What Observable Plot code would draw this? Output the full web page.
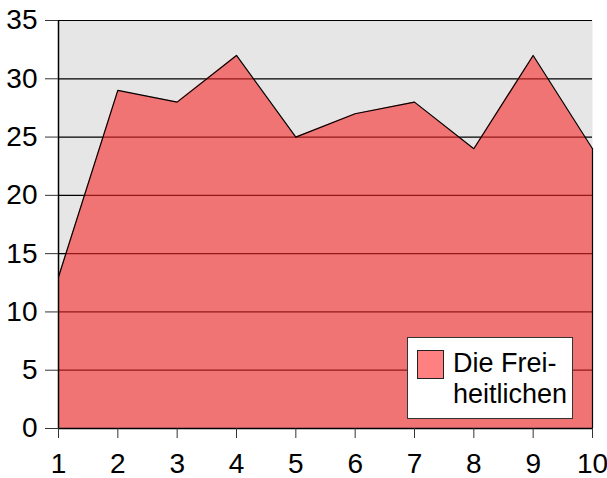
<!DOCTYPE html>
<html><head><meta charset="utf-8">
<script src="https://cdn.jsdelivr.net/npm/d3@7"></script>
<script src="https://cdn.jsdelivr.net/npm/@observablehq/plot@0.6"></script>
<style>
body{margin:0;background:#fff;font-family:"Liberation Sans",Arial,sans-serif;}
#wrap{position:relative;width:607px;height:478px;}
#wrap svg text{font-size:28px !important;font-family:"Liberation Sans",Arial,sans-serif !important;}
#legend{position:absolute;left:407px;top:337px;width:166px;height:82px;background:#fff;border:1px solid #333;box-sizing:border-box;}
#sw{position:absolute;left:9px;top:12px;width:27px;height:29px;background:#ff8080;border:1px solid #222;box-sizing:border-box;}
#lt{position:absolute;left:45px;top:10px;font-size:27px;line-height:31px;color:#000;white-space:nowrap;}
</style></head><body>
<div id="wrap"></div>
<script>
const xs = [1,2,3,4,5,6,7,8,9,10];
const ys = [13,29,28,32,25,27,28,24,32,24];
const yTicks = [0,5,10,15,20,25,30,35];
const seriesName = ["Die Frei-","heitlichen"];
const data = xs.map((x,i)=>({x, y: ys[i]}));

const chart = Plot.plot({
  width: 607, height: 478,
  marginLeft: 58, marginRight: 15, marginTop: 20, marginBottom: 50,
  style: {fontFamily: '"Liberation Sans", Arial, sans-serif', fontSize: "28px", background: "#fff", color: "#000"},
  x: {domain: [1,10], label: null},
  y: {domain: [0,35], label: null},
  marks: [
    Plot.frame({fill: "#e6e6e6", stroke: null}),
    Plot.gridY(yTicks.filter(d=>d>0), {stroke: "#000", strokeOpacity: 1, strokeWidth: 1.2}),
    Plot.areaY(data, {x: "x", y: "y", fill: "rgb(247,40,40)", fillOpacity: 0.6}),
    Plot.lineY(data, {x: "x", y: "y", stroke: "#000", strokeWidth: 1.2}),
    Plot.ruleX([10], {y1: 0, y2: ys[ys.length-1], stroke: "#000", strokeWidth: 1.2}),
    Plot.ruleY([0], {stroke: "#000", strokeWidth: 1.5}),
    Plot.ruleX([1], {stroke: "#000", strokeWidth: 1.5}),
    Plot.axisX({ticks: xs, tickSize: 10, tickPadding: 15, fontSize: 28, stroke: "#333", tickFormat: d3.format("d")}),
    Plot.axisY({ticks: yTicks, tickSize: 13, tickPadding: 8, fontSize: 28, stroke: "#333"})
  ]
});
const wrap = document.getElementById("wrap");
wrap.appendChild(chart);
const lg = document.createElement("div");
lg.id = "legend";
lg.innerHTML = '<div id="sw"></div><div id="lt"></div>';
wrap.appendChild(lg);
document.getElementById("lt").innerHTML = seriesName.join("<br>");
</script>
</body></html>
